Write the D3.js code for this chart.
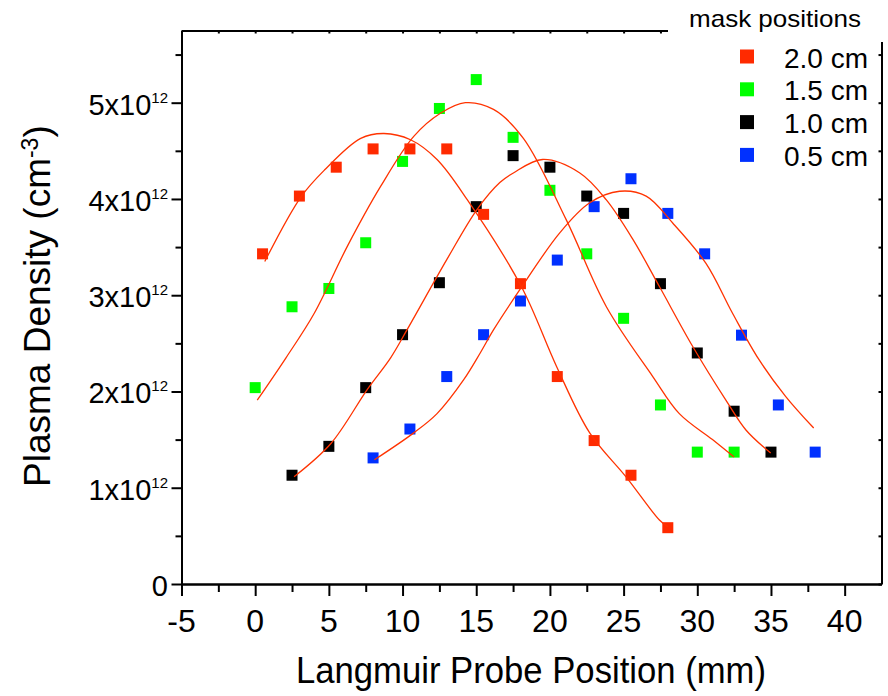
<!DOCTYPE html>
<html>
<head>
<meta charset="utf-8">
<script src="https://cdn.jsdelivr.net/npm/d3@7"></script>
<style>
  html, body { margin: 0; padding: 0; background: #fff; }
  svg { display: block; font-family: "Liberation Sans", Arial, sans-serif; }
</style>
</head>
<body>
<svg id="chart" width="888" height="696"></svg>
<script>
// Probe positions (mm) and plasma densities (units of 1e12 cm^-3) for each mask position
const seriesNames = ["2.0 cm", "1.5 cm", "1.0 cm", "0.5 cm"];
const seriesColors = ["#ff2a00", "#00ff00", "#000000", "#0030ff"];

const xRed   = [0.5, 3, 5.5, 8, 10.5, 13, 15.5, 18, 20.5, 23, 25.5, 28];
const yRed   = [3.43, 4.03, 4.33, 4.52, 4.52, 4.52, 3.84, 3.12, 2.155, 1.49, 1.13, 0.585];

const xGreen = [0, 2.5, 5, 7.5, 10, 12.5, 15, 17.5, 20, 22.5, 25, 27.5, 30, 32.5];
const yGreen = [2.04, 2.88, 3.07, 3.545, 4.39, 4.94, 5.24, 4.64, 4.09, 3.43, 2.76, 1.86, 1.37, 1.37];

const xBlack = [2.5, 5, 7.5, 10, 12.5, 15, 17.5, 20, 22.5, 25, 27.5, 30, 32.5, 35];
const yBlack = [1.13, 1.43, 2.04, 2.59, 3.13, 3.92, 4.45, 4.33, 4.03, 3.85, 3.12, 2.40, 1.795, 1.37];

const xBlue  = [8, 10.5, 13, 15.5, 18, 20.5, 23, 25.5, 28, 30.5, 33, 35.5, 38];
const yBlue  = [1.31, 1.61, 2.155, 2.59, 2.94, 3.365, 3.92, 4.21, 3.85, 3.43, 2.585, 1.86, 1.37];

// Fitted profile curves (sampled points of each fit)
const fitRedX   = [0.65, 3.1, 4.7, 7.16, 8.74, 10.54, 12.34, 14.4, 18.06, 20.45, 22.7, 25.18, 27.43, 28.0];
const fitRedY   = [3.35, 4.02, 4.30, 4.63, 4.68, 4.615, 4.41, 3.99, 3.09, 2.26, 1.57, 1.11, 0.665, 0.595];
const fitGreenX = [0.14, 2.09, 4.0, 6.26, 8.51, 10.76, 12.57, 14.26, 16.17, 18.2, 21.12, 23.83, 26.98, 28.78, 31.03, 32.5];
const fitGreenY = [1.91, 2.35, 2.81, 3.51, 4.13, 4.65, 4.89, 5.00, 4.93, 4.63, 3.78, 2.88, 2.155, 1.77, 1.50, 1.32];
const fitBlackX = [2.64, 5.14, 7.6, 9.19, 10.3, 13.0, 15.05, 16.6, 17.52, 19.5, 22.03, 23.83, 25.63, 27.43, 29.68, 31.94, 33.3, 34.98];
const fitBlackY = [1.115, 1.46, 2.02, 2.35, 2.64, 3.37, 3.89, 4.17, 4.27, 4.41, 4.27, 3.99, 3.58, 3.09, 2.47, 1.91, 1.60, 1.36];
const fitBlueX  = [8.09, 10.76, 12.34, 14.14, 15.27, 16.17, 17.97, 20.68, 22.7, 24.73, 26.53, 28.33, 30.59, 32.4, 34.19, 35.99, 37.9];
const fitBlueY  = [1.29, 1.57, 1.77, 2.12, 2.40, 2.64, 3.06, 3.65, 3.96, 4.08, 4.03, 3.75, 3.33, 2.81, 2.33, 1.95, 1.62];

// Axis ticks
const xMajorTicks = [-5, 0, 5, 10, 15, 20, 25, 30, 35, 40];
const xMinorTicks = [-2.5, 2.5, 7.5, 12.5, 17.5, 22.5, 27.5, 32.5, 37.5];
const yMajorTicks = [0, 1, 2, 3, 4, 5];
const yMinorTicks = [0.5, 1.5, 2.5, 3.5, 4.5, 5.5];
const yTickExponent = "12";

const svg = d3.select("#chart");
const x = d3.scaleLinear().domain([-5, 42.5]).range([181.5, 881.5]);
const y = d3.scaleLinear().domain([0, 5.75]).range([584, 30.5]);

const series = [
  { xs: xBlue,  ys: yBlue,  color: seriesColors[3] },
  { xs: xBlack, ys: yBlack, color: seriesColors[2] },
  { xs: xGreen, ys: yGreen, color: seriesColors[1] },
  { xs: xRed,   ys: yRed,   color: seriesColors[0] }
];
const fits = [
  { xs: fitBlueX,  ys: fitBlueY },
  { xs: fitBlackX, ys: fitBlackY },
  { xs: fitGreenX, ys: fitGreenY },
  { xs: fitRedX,   ys: fitRedY }
];

// Axes
function styleAxis(g) {
  g.select(".domain").attr("stroke", "#000").attr("stroke-width", 2);
  g.selectAll(".tick line").attr("stroke", "#000").attr("stroke-width", 2);
  g.selectAll(".tick text").remove();
}

const [x0, x1] = x.range();
const [yb, yt] = y.range();

svg.append("g").attr("transform", `translate(0,${yb})`)
  .call(d3.axisBottom(x).tickValues(xMinorTicks).tickSize(8).tickSizeOuter(0)).call(styleAxis);
svg.append("g").attr("transform", `translate(0,${yb})`)
  .call(d3.axisBottom(x).tickValues(xMajorTicks).tickSize(12).tickSizeOuter(0)).call(styleAxis);
svg.append("g").attr("transform", `translate(0,${yt})`)
  .call(d3.axisBottom(x).tickValues(xMajorTicks.concat(xMinorTicks)).tickSize(3).tickSizeOuter(0)).call(styleAxis);

svg.append("g").attr("transform", `translate(${x0},0)`)
  .call(d3.axisLeft(y).tickValues(yMinorTicks).tickSize(6).tickSizeOuter(0)).call(styleAxis);
svg.append("g").attr("transform", `translate(${x0},0)`)
  .call(d3.axisLeft(y).tickValues(yMajorTicks).tickSize(10).tickSizeOuter(0)).call(styleAxis);
svg.append("g").attr("transform", `translate(${x1},0)`)
  .call(d3.axisLeft(y).tickValues(yMajorTicks.concat(yMinorTicks)).tickSize(3).tickSizeOuter(0)).call(styleAxis);

// Tick labels
svg.append("g").selectAll("text").data(xMajorTicks).join("text")
  .attr("x", d => x(d)).attr("y", 632)
  .attr("text-anchor", "middle").attr("font-size", 32).attr("fill", "#000")
  .text(d => String(d));

const yLab = svg.append("g").selectAll("text").data(yMajorTicks).join("text")
  .attr("x", 168).attr("y", d => y(d) + 12)
  .attr("text-anchor", "end").attr("font-size", 29).attr("fill", "#000");
yLab.each(function (d) {
  const t = d3.select(this);
  if (d === 0) { t.text("0"); return; }
  t.append("tspan").text(d + "x10");
  t.append("tspan").attr("font-size", 15).attr("dy", -12).text(yTickExponent);
});

// Axis titles
svg.append("text")
  .attr("x", 531).attr("y", 683)
  .attr("text-anchor", "middle").attr("font-size", 37)
  .attr("textLength", 470).attr("lengthAdjust", "spacingAndGlyphs")
  .text("Langmuir Probe Position (mm)");

const yTitle = svg.append("text")
  .attr("transform", "translate(50,487) rotate(-90)")
  .attr("font-size", 37);
yTitle.append("tspan").text("Plasma Density (cm");
yTitle.append("tspan").attr("font-size", 23).attr("dy", -12).text("-3");
yTitle.append("tspan").attr("dy", 12).text(")");

// Markers
const msize = 11;
series.forEach(s => {
  svg.append("g").selectAll("rect").data(s.xs.map((v, i) => [v, s.ys[i]])).join("rect")
    .attr("x", d => x(d[0]) - msize / 2).attr("y", d => y(d[1]) - msize / 2)
    .attr("width", msize).attr("height", msize)
    .attr("fill", s.color);
});

// Fit curves
const line = d3.line().x(d => x(d[0])).y(d => y(d[1])).curve(d3.curveCatmullRom.alpha(0.5));
fits.forEach(f => {
  svg.append("path")
    .attr("d", line(f.xs.map((v, i) => [v, f.ys[i]])))
    .attr("fill", "none").attr("stroke", "#ff3300").attr("stroke-width", 1.3);
});

// Legend
svg.append("rect").attr("x", 668).attr("y", 0).attr("width", 220).attr("height", 42).attr("fill", "#fff");
svg.append("text").attr("x", 689).attr("y", 26.5).attr("font-size", 24)
  .attr("textLength", 172).attr("lengthAdjust", "spacingAndGlyphs")
  .text("mask positions");
const leg = svg.append("g").selectAll("g").data(seriesNames).join("g")
  .attr("transform", (d, i) => `translate(0,${56.5 + i * 32.8})`);
leg.append("rect").attr("x", 740).attr("y", -7).attr("width", 14).attr("height", 14)
  .attr("fill", (d, i) => seriesColors[i]);
leg.append("text").attr("x", 784).attr("y", 11).attr("font-size", 28)
  .text(d => d);
</script>
</body>
</html>
